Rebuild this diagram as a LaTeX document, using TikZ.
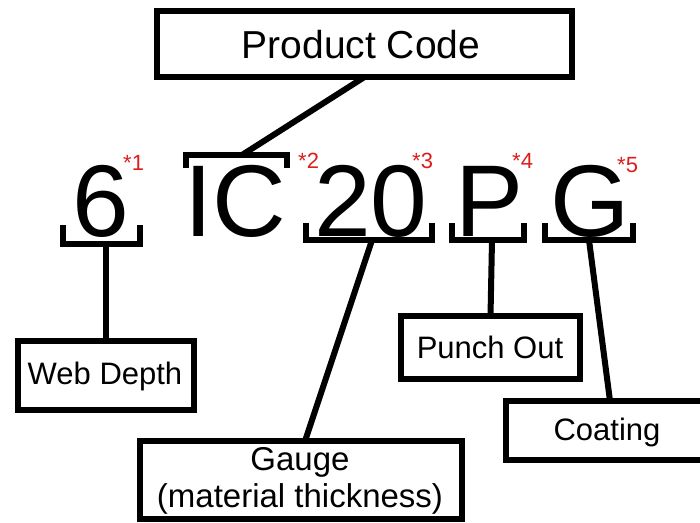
\documentclass[tikz,border=0pt]{standalone}
\usepackage{fontspec}
\setmainfont{Liberation Sans}
\definecolor{labred}{RGB}{222,30,30}
\begin{document}
\begin{tikzpicture}[x=1pt,y=-1pt,
  box/.style={draw=black,line width=6pt,inner sep=0pt,outer sep=0pt,fill=white},
  conn/.style={line width=6pt,draw=black},
  brk/.style={line width=6pt,draw=black},
  big/.style={inner sep=0pt,anchor=base,font=\fontsize{102}{102}\selectfont},
  fnmark/.style={inner sep=0pt,anchor=base west,text=labred,font=\fontsize{22}{22}\selectfont},
  lbl/.style={inner sep=0pt,font=\fontsize{31}{37}\selectfont,align=center}]
\useasboundingbox (0,0) rectangle (700,522);
\fill[white] (0,0) rectangle (700,522);

% boxes
\node[box,minimum width=415pt,minimum height=66pt] (pc) at (364.5,44) {};
\node[lbl,font=\fontsize{39}{39}\selectfont] (pct) at (361,45) {Product Code};
\node[box,minimum width=176pt,minimum height=69pt] (wd) at (106,375.5) {};
\node[lbl] (wdt) at (105,376) {Web Depth};
\node[box,minimum width=322pt,minimum height=78pt] (ga) at (301,480) {};
\node[lbl,font=\fontsize{33}{37}\selectfont] (gat) at (300,481) {Gauge\\(material thickness)};
\node[box,minimum width=179pt,minimum height=63pt] (po) at (490.5,347.5) {};
\node[lbl] (pot) at (490,347) {Punch Out};
\node[box,minimum width=200pt,minimum height=59pt] (co) at (606,430.5) {};
\node[lbl] (cot) at (607,432) {Coating};

% big characters
\node[big] (c6) at (101,236) {\makebox[46pt][c]{6}};
\node[big] (cIC) at (235,236) {\makebox[84pt][c]{IC}};
\node[big] (c20) at (371,236) {\makebox[100pt][c]{20}};
\node[big] (cP) at (490,236) {\makebox[50pt][c]{P}};
\node[big] (cG) at (590,236) {\makebox[60pt][c]{G}};

% red footnote marks
\node[fnmark] (m1) at (123,170) {*1};
\node[fnmark] (m2) at (298,168) {*2};
\node[fnmark] (m3) at (412,168) {*3};
\node[fnmark] (m4) at (512,168) {*4};
\node[fnmark] (m5) at (617,172) {*5};

% brackets
\draw[brk] (63,225) -- (63,244) -- (140,244) -- (140,225);
\draw[brk] (186,168) -- (186,155) -- (287,155) -- (287,168);
\draw[brk] (306,223) -- (306,240) -- (432,240) -- (432,223);
\draw[brk] (452,223) -- (452,240) -- (524,240) -- (524,223);
\draw[brk] (545,223) -- (545,240) -- (633,240) -- (633,223);

% attachment points
\coordinate (a6) at (106,244);
\coordinate (aIC) at (242,155);
\coordinate (a20) at (372,240);
\coordinate (aP) at (492,240);
\coordinate (aG) at (589,240);
\coordinate (gaTop) at (305,441);
\coordinate (coTop) at (610,401);

% connectors
\draw[conn] (pc.south) -- (aIC);
\draw[conn] (a6) -- (wd.north);
\draw[conn] (a20) -- (gaTop);
\draw[conn] (aP) -- (po.north);
\draw[conn] (aG) -- (coTop);
\end{tikzpicture}
\end{document}
